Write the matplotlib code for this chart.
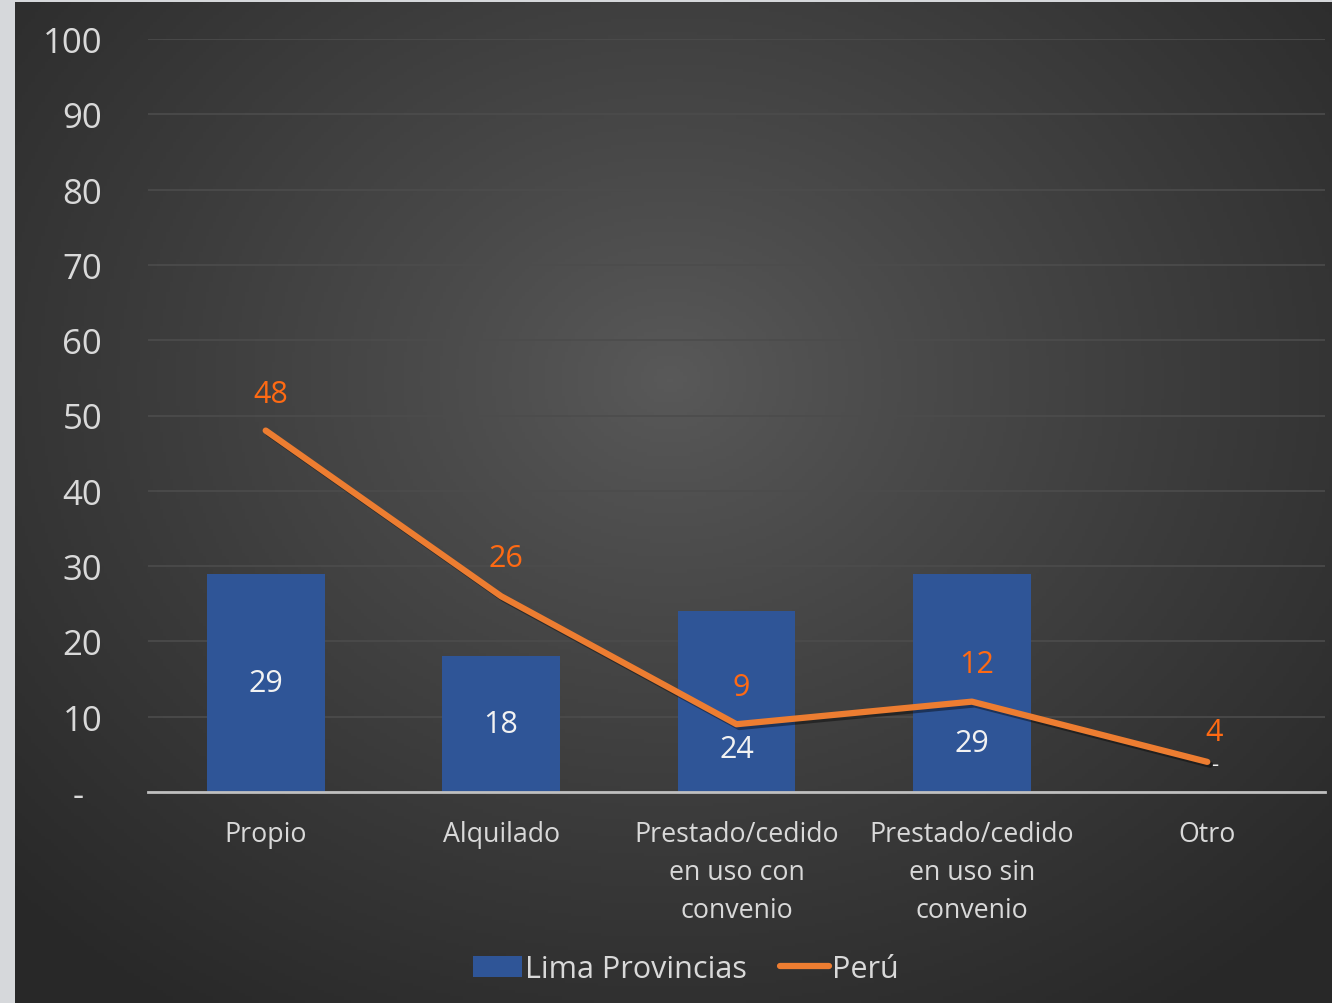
import numpy as np
import matplotlib
matplotlib.use("Agg")
import matplotlib.pyplot as plt
from matplotlib.patches import Patch, Rectangle
from matplotlib.lines import Line2D
import matplotlib.patheffects as pe

plt.rcParams['font.family'] = ['Open Sans', 'DejaVu Sans']

categories = ["Propio", "Alquilado", "Prestado/cedido\nen uso con\nconvenio",
              "Prestado/cedido\nen uso sin\nconvenio", "Otro"]
lima_provincias = [29, 18, 24, 29, 0]
peru = [48, 26, 9, 12, 4]
bar_label_text = ["29", "18", "24", "29", "-"]
bar_label_y = [14.5, 9, 5.7, 6.5, 3.7]
line_label_y = [52.8, 31.1, 14, 17.0, 8.0]
yticks = [0, 10, 20, 30, 40, 50, 60, 70, 80, 90, 100]
ytick_labels = ["-  ", "10", "20", "30", "40", "50", "60", "70", "80", "90", "100"]

W, H = 1332, 1004
fig = plt.figure(figsize=(W / 100, H / 100), dpi=100)
fig.patch.set_facecolor('#D6D8DB')

# dark panel with radial gradient
bg = fig.add_axes([15 / W, 0, 1 - 15 / W, 1 - 3 / H])
bg.set_axis_off()
nx, ny = 400, 300
xx, yy = np.meshgrid(np.linspace(15, W, nx), np.linspace(3, H, ny))
cx, cy = 670, 380
r = np.sqrt(((xx - cx) / 900) ** 2 + ((yy - cy) / 750) ** 2)
r = np.clip(r, 0, 1)
v = 0.35 - (0.35 - 0.16) * r ** 0.9
img = np.dstack([v, v, v])
bg.imshow(img, extent=[0, 1, 0, 1], aspect='auto', origin='upper')
bg.set_xlim(0, 1)
bg.set_ylim(0, 1)

ax = fig.add_axes([148 / W, 1 - 793 / H, (1325 - 148) / W, (793 - 40) / H])
ax.set_facecolor('none')
x = np.arange(len(categories))
ax.set_xlim(-0.5, len(categories) - 0.5)
ax.set_ylim(0, 100)

ax.set_yticks(yticks)
ax.set_yticklabels(ytick_labels)
ax.yaxis.grid(True, color='#4C4C4C', linewidth=1.2, zorder=0)
ax.set_axisbelow(True)
for s in ['top', 'right', 'left']:
    ax.spines[s].set_visible(False)
ax.spines['bottom'].set_color('#BFBFBF')
ax.spines['bottom'].set_linewidth(2)
ax.tick_params(axis='y', length=0, pad=33, labelsize=25, labelcolor='#D9D9D9')
ax.tick_params(axis='x', length=0, pad=20, labelsize=19.3, labelcolor='#D9D9D9')
ax.set_xticks(x)
ax.set_xticklabels(categories, linespacing=1.48, va='top')

bars = ax.bar(x, lima_provincias, width=0.5, color='#2F5597', zorder=2)

ax.plot(x, peru, color='#ED7D31', linewidth=4.5, solid_capstyle='round', zorder=3,
        path_effects=[pe.SimpleLineShadow(offset=(2, -2), alpha=0.4), pe.Normal()])

for xi, t, yl in zip(x, bar_label_text, bar_label_y):
    dx = 0.03 if t == "-" else 0.0
    fs = 16 if t == "-" else 22
    ax.text(xi + dx, yl, t, ha='center', va='center', fontsize=fs, color='#F2F2F2', zorder=5)
for xi, val, yl in zip(x, peru, line_label_y):
    dx = 0.03 if xi == len(categories) - 1 else 0.02
    ax.text(xi + dx, yl, str(val), ha='center', va='center', fontsize=22,
            color='#FF6A13', zorder=4)

handles = [Patch(facecolor='#2F5597', edgecolor='none'),
           Line2D([0], [0], color='#ED7D31', linewidth=4.5, solid_capstyle='round')]
leg = fig.legend(handles, ["Lima Provincias", "Perú"], loc='center',
                 bbox_to_anchor=(0.515, 1 - 970 / H), ncol=2, frameon=False,
                 fontsize=22, handlelength=1.6, handletextpad=0.1, columnspacing=1.1,
                 handleheight=0.7)
for t in leg.get_texts():
    t.set_color('#D9D9D9')

fig.savefig('out.png', dpi=100, facecolor=fig.get_facecolor())
